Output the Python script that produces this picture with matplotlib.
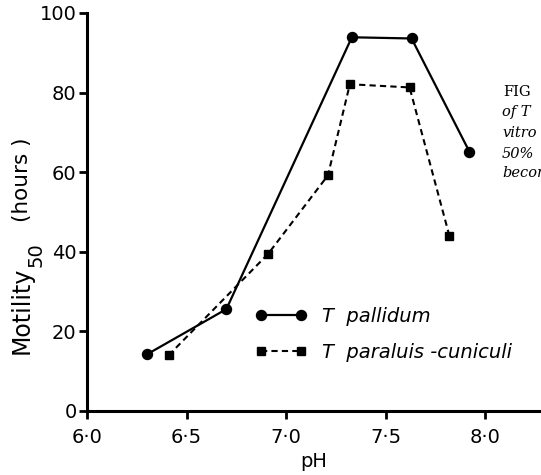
import matplotlib
matplotlib.use('Agg')
import matplotlib.pyplot as plt

# pH vs motility_50 (hours)
ph_pallidum = [6.30, 6.70, 7.33, 7.63, 7.92]
mot_pallidum = [14.2, 25.6, 93.9, 93.6, 65.2]

ph_paraluis = [6.41, 6.91, 7.21, 7.32, 7.62, 7.82]
mot_paraluis = [14.0, 39.5, 59.2, 82.1, 81.3, 44.0]

xticks = [6.0, 6.5, 7.0, 7.5, 8.0]
xtick_labels = ['6\u00b70', '6\u00b75', '7\u00b70', '7\u00b75', '8\u00b70']
yticks = [0, 20, 40, 60, 80, 100]

plt.rcParams['font.family'] = ['DejaVu Sans']

fig = plt.figure(figsize=(5.41, 4.75), dpi=100)
ax = fig.add_axes([87 / 541, 64 / 475, 454 / 541, 398 / 475])

ax.plot(ph_pallidum, mot_pallidum, color='black', lw=1.6, marker='o',
        markersize=7.2, label='T  pallidum', clip_on=False)
ax.plot(ph_paraluis, mot_paraluis, color='black', lw=1.5, ls=(0, (3, 2)),
        marker='s', markersize=6.3, label='T  paraluis -cuniculi', clip_on=False)

ax.set_xlim(6.0, 8.28)
ax.set_ylim(0, 100)
ax.set_xticks(xticks)
ax.set_xticklabels(xtick_labels)
ax.set_yticks(yticks)

for s in ['top', 'right']:
    ax.spines[s].set_visible(False)
for s in ['left', 'bottom']:
    ax.spines[s].set_linewidth(2.2)

ax.tick_params(axis='both', labelsize=14, width=2, length=6, direction='out')
ax.tick_params(axis='y', pad=1.5)
ax.tick_params(axis='x', pad=6)

ax.set_xlabel('pH', fontsize=14, labelpad=4)

# y label: Motility, subscript 50, (hours )
fig.text(22 / 541, 1 - 310 / 475, 'Motility', fontsize=17, rotation=90,
         ha='center', va='center')
fig.text(36 / 541, 1 - 255 / 475, '50', fontsize=14, rotation=90,
         ha='center', va='center')
fig.text(22 / 541, 1 - 180 / 475, '(hours )', fontsize=15.5, rotation=90,
         ha='center', va='center')

leg = ax.legend(loc='upper left', bbox_to_anchor=(0.371, 0.262), frameon=False,
                fontsize=14, handlelength=2.66, handletextpad=0.74, numpoints=2,
                labelspacing=0.9, borderpad=0, borderaxespad=0)
for t in leg.get_texts():
    t.set_fontstyle('italic')

# cut-off caption on the right side of the scan
cap = dict(fontsize=10.5, family='DejaVu Serif', va='center', ha='left')
fig.text(503 / 541, 1 - 92 / 475, 'FIG', **cap)
fig.text(502 / 541, 1 - 112 / 475, 'of T', style='italic', **cap)
fig.text(502 / 541, 1 - 133 / 475, 'vitro', style='italic', **cap)
fig.text(502 / 541, 1 - 154 / 475, '50%', style='italic', **cap)
fig.text(502 / 541, 1 - 173 / 475, 'becom', style='italic', **cap)

fig.savefig('out.png', dpi=100)
